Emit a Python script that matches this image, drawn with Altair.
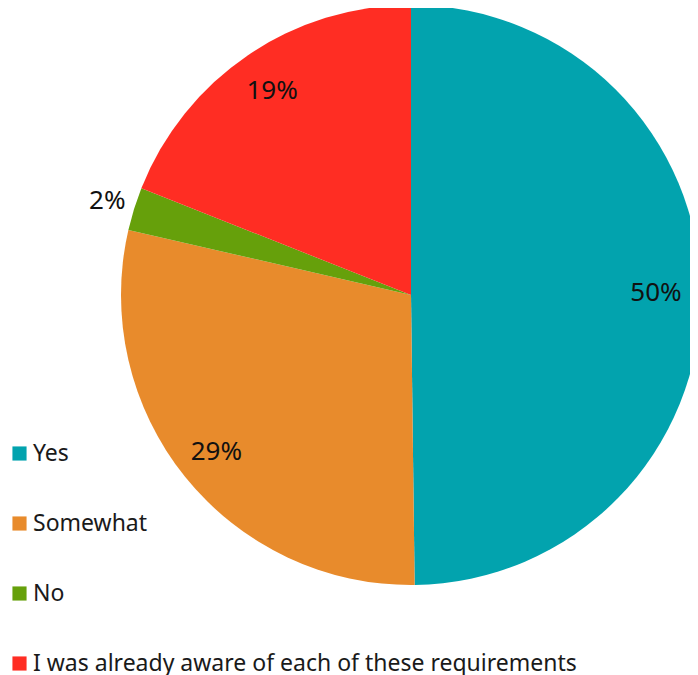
import altair as alt
import pandas as pd
import math

categories = ["Yes", "Somewhat", "No", "I was already aware of each of these requirements"]
values = [49.8, 28.8, 2.4, 19.0]
labels = ["50%", "29%", "2%", "19%"]
label_radius = [245, 250, 318, 247]
colors = ["#02A3AE", "#E88B2C", "#66A00B", "#FF2D23"]

df = pd.DataFrame({
    "cat": categories,
    "val": values,
    "lab": labels,
    "r": label_radius,
    "ord": list(range(len(categories))),
})

FONT = "Noto Sans"
theta_scale = alt.Scale(domain=[0, sum(values)], range=[0, 2 * math.pi], zero=True, nice=False)

base = alt.Chart(df).transform_stack(
    stack="val", groupby=[], as_=["v0", "v1"], sort=[alt.SortField("ord")]
).transform_calculate(
    mid="(datum.v0 + datum.v1) / 2"
).encode(
    x=alt.value(403),
    y=alt.value(287),
)

arcs = base.mark_arc(radius=290, stroke=None).encode(
    theta=alt.Theta("v0:Q", scale=theta_scale),
    theta2="v1:Q",
    color=alt.Color(
        "cat:N",
        scale=alt.Scale(domain=categories, range=colors),
        sort=categories,
        legend=alt.Legend(
            title=None,
            orient="none",
            legendX=0,
            legendY=434,
            padding=0,
            symbolType="square",
            symbolSize=200,
            symbolStrokeWidth=0,
            labelFontSize=23,
            labelFont=FONT,
            labelColor="#1a1a1a",
            rowPadding=46,
            labelOffset=2,
            labelLimit=700,
        ),
    ),
)

text = base.mark_text(font=FONT, fontSize=26, color="#111111").encode(
    theta=alt.Theta("mid:Q", scale=theta_scale),
    text="lab:N",
    radius=alt.Radius("r:Q", scale=None),
)

chart = (arcs + text).properties(
    width=682,
    height=667,
    padding=0,
    autosize=alt.AutoSizeParams(type="none"),
).configure_view(stroke=None)

chart.save("out.html", embed_options={"renderer": "svg", "actions": False})
